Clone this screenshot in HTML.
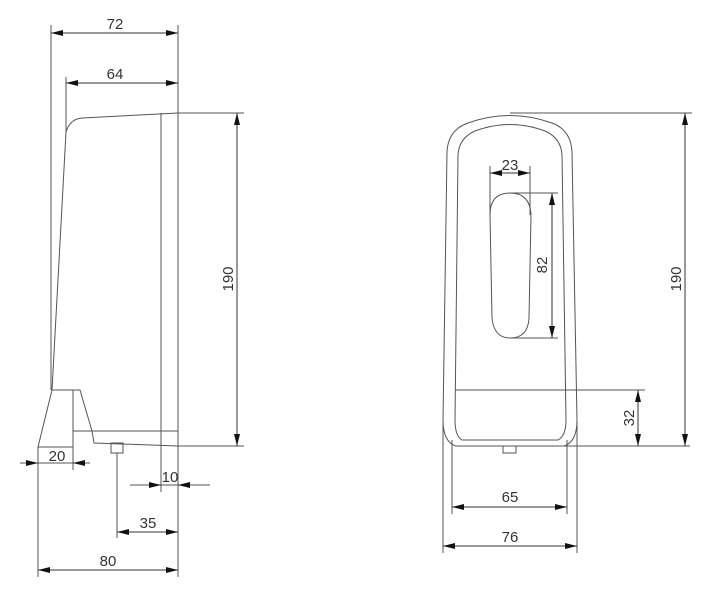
<!DOCTYPE html>
<html><head><meta charset="utf-8"><style>html,body{margin:0;padding:0;background:#fff}svg{display:block}text{font-family:"Liberation Sans",sans-serif;font-size:15px;fill:#333}</style></head>
<body>
<svg width="716" height="600" viewBox="0 0 716 600" xmlns="http://www.w3.org/2000/svg">
<defs>
<marker id="a" viewBox="0 0 12 6" refX="12" refY="3" markerWidth="12" markerHeight="6" markerUnits="userSpaceOnUse" orient="auto-start-reverse"><path d="M0,0 L12,3 L0,6Z" fill="#111"/></marker>
</defs>
<g stroke="#555" stroke-width="1" fill="none">
<!-- left view -->
<line x1="51" y1="25" x2="51" y2="390"/>
<line x1="178" y1="25" x2="178" y2="446"/>
<line x1="66" y1="77" x2="66" y2="132"/>
<path d="M52,390 L66,132 Q70,119 82,118 L178,113 L244,113"/>
<line x1="161" y1="113" x2="161" y2="492"/>
<path d="M52,390 L80,390 L92,431 L94,443 L178,446 L244,446"/>
<path d="M52,390 L38,447 L73,447"/>
<line x1="73" y1="390" x2="73" y2="470"/>
<line x1="73" y1="431" x2="178" y2="431"/>
<rect x="111" y="443" width="12" height="10"/>
<line x1="117" y1="453" x2="117" y2="538"/>
<line x1="38" y1="447" x2="38" y2="577"/>
<line x1="130" y1="485" x2="210" y2="485"/>
<line x1="20" y1="463" x2="90" y2="463"/>
<line x1="178" y1="446" x2="178" y2="577"/>
<!-- right view -->
<path d="M456,446 Q443,442 443,420 L447,152 Q448,130 468,123 Q510,108 552,123 Q571,130 572,152 L577,420 Q577,442 564,446"/>
<path d="M462,440 Q455,436 455,420 L458,155 Q459,138 475,131 Q510,118 545,131 Q561,138 562,155 L566,420 Q566,436 558,440 Z"/>
<line x1="456" y1="446" x2="690" y2="446"/>
<line x1="455" y1="390" x2="645" y2="390"/>
<line x1="510" y1="113" x2="692" y2="113"/>
<rect x="503" y="446" width="13" height="7"/>
<path d="M510,193 Q490,193 490,215 L492,318 Q494,338 510,338 Q528,338 529,318 L531,215 Q530,193 510,193 Z"/>
<line x1="490" y1="166" x2="490" y2="215"/>
<line x1="530" y1="166" x2="530" y2="215"/>
<line x1="510" y1="193" x2="558" y2="193"/>
<line x1="510" y1="338" x2="558" y2="338"/>
<line x1="443" y1="420" x2="443" y2="553"/>
<line x1="577" y1="420" x2="577" y2="553"/>
<line x1="452" y1="440" x2="452" y2="514"/>
<line x1="567" y1="440" x2="567" y2="514"/>
</g>
<g stroke="#333" stroke-width="1" fill="none">
<line x1="51" y1="33" x2="178" y2="33" marker-start="url(#a)" marker-end="url(#a)"/>
<line x1="66" y1="83" x2="178" y2="83" marker-start="url(#a)" marker-end="url(#a)"/>
<line x1="237" y1="113" x2="237" y2="446" marker-start="url(#a)" marker-end="url(#a)"/>
<line x1="26" y1="463" x2="38" y2="463" marker-end="url(#a)"/>
<line x1="85" y1="463" x2="73" y2="463" marker-end="url(#a)"/>
<line x1="149" y1="485" x2="161" y2="485" marker-end="url(#a)"/>
<line x1="190" y1="485" x2="178" y2="485" marker-end="url(#a)"/>
<line x1="117" y1="532" x2="178" y2="532" marker-start="url(#a)" marker-end="url(#a)"/>
<line x1="38" y1="570" x2="178" y2="570" marker-start="url(#a)" marker-end="url(#a)"/>
<line x1="490" y1="173" x2="530" y2="173" marker-start="url(#a)" marker-end="url(#a)"/>
<line x1="552" y1="193" x2="552" y2="338" marker-start="url(#a)" marker-end="url(#a)"/>
<line x1="685" y1="113" x2="685" y2="446" marker-start="url(#a)" marker-end="url(#a)"/>
<line x1="638" y1="390" x2="638" y2="446" marker-start="url(#a)" marker-end="url(#a)"/>
<line x1="452" y1="507" x2="567" y2="507" marker-start="url(#a)" marker-end="url(#a)"/>
<line x1="443" y1="546" x2="577" y2="546" marker-start="url(#a)" marker-end="url(#a)"/>
</g>
<g text-anchor="middle">
<text x="115" y="29">72</text>
<text x="115" y="79">64</text>
<text x="57" y="461">20</text>
<text x="170" y="482">10</text>
<text x="148" y="528">35</text>
<text x="108" y="566">80</text>
<text transform="translate(233,279) rotate(-90)">190</text>
<text x="510" y="170">23</text>
<text transform="translate(547,265) rotate(-90)">82</text>
<text transform="translate(681,279) rotate(-90)">190</text>
<text transform="translate(634,418) rotate(-90)">32</text>
<text x="510" y="502">65</text>
<text x="510" y="542">76</text>
</g>
</svg>
</body></html>
